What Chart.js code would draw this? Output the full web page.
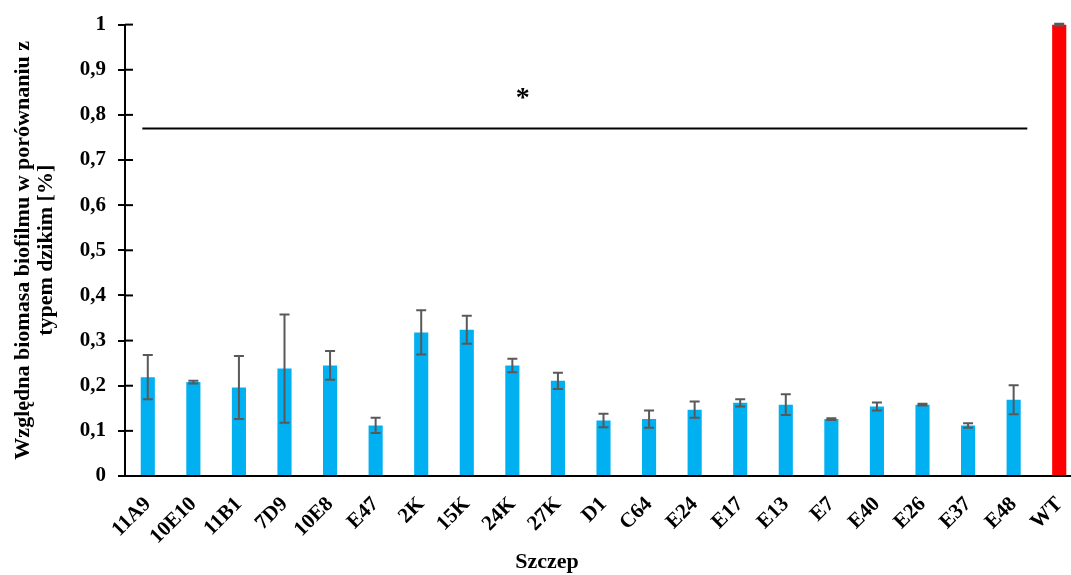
<!DOCTYPE html>
<html><head><meta charset="utf-8">
<script src="https://cdn.jsdelivr.net/npm/chart.js@4.4.1/dist/chart.umd.min.js"></script>
<style>
html,body{margin:0;padding:0;background:#fff;overflow:hidden}
#wrap{width:1071px;height:575px;overflow:hidden;position:relative;background:#fff}
#box{width:1082px;height:575px;position:absolute;left:0;top:0}
</style>
</head><body>
<div id="wrap"><div id="box"><canvas id="c"></canvas></div></div>
<script>
const categories = ['11A9','10E10','11B1','7D9','10E8','E47','2K','15K','24K','27K','D1','C64','E24','E17','E13','E7','E40','E26','E37','E48','WT'];
const values = [0.219,0.208,0.196,0.238,0.245,0.112,0.318,0.324,0.245,0.211,0.123,0.126,0.147,0.162,0.158,0.126,0.154,0.158,0.112,0.169,1.0];
const errors = [0.049,0.003,0.070,0.120,0.032,0.017,0.049,0.031,0.015,0.018,0.015,0.019,0.018,0.008,0.023,0.002,0.009,0.002,0.005,0.032,0.002];
const barColors = categories.map(c => c === 'WT' ? '#FF0000' : '#00B0F0');
const yTitle = ['Względna biomasa biofilmu w porównaniu z', 'typem dzikim [%]'];
const xTitle = 'Szczep';
const thresholdLine = { value: 0.77, from: -0.12, to: 19.3 };
const significance = { text: '*', at: 8.23, value: 0.85 };

const FONT = '"Liberation Serif", "Times New Roman", serif';

const extras = {
  id: 'extras',
  afterDatasetsDraw(chart) {
    const ctx = chart.ctx, xs = chart.scales.x, ys = chart.scales.y;
    ctx.save();
    // error bars
    ctx.strokeStyle = '#595959';
    ctx.lineWidth = 2;
    values.forEach((v, i) => {
      const x = xs.getPixelForValue(i);
      const yt = ys.getPixelForValue(v + errors[i]);
      const yb = ys.getPixelForValue(v - errors[i]);
      ctx.beginPath();
      ctx.moveTo(x, yt); ctx.lineTo(x, yb);
      ctx.moveTo(x - 5, yt); ctx.lineTo(x + 5, yt);
      ctx.moveTo(x - 5, yb); ctx.lineTo(x + 5, yb);
      ctx.stroke();
    });
    // threshold line
    ctx.strokeStyle = '#000';
    ctx.lineWidth = 2;
    const ly = ys.getPixelForValue(thresholdLine.value);
    ctx.beginPath();
    ctx.moveTo(xs.getPixelForValue(thresholdLine.from), ly);
    ctx.lineTo(xs.getPixelForValue(thresholdLine.to), ly);
    ctx.stroke();
    // star
    ctx.fillStyle = '#000';
    ctx.font = 'bold 28px ' + FONT;
    ctx.textAlign = 'center';
    ctx.textBaseline = 'middle';
    ctx.fillText(significance.text, xs.getPixelForValue(significance.at), ys.getPixelForValue(significance.value) + 6);
    // inner half of y ticks (cross ticks)
    ctx.lineWidth = 2;
    ys.ticks.forEach(t => {
      const y = ys.getPixelForValue(t.value);
      ctx.beginPath();
      ctx.moveTo(ys.right, y); ctx.lineTo(ys.right + 8, y);
      ctx.stroke();
    });
    // x title
    ctx.font = 'bold 22px ' + FONT;
    ctx.textBaseline = 'middle';
    ctx.fillText(xTitle, 547, 562);
    ctx.restore();
  }
};

new Chart(document.getElementById('c'), {
  type: 'bar',
  data: {
    labels: categories,
    datasets: [{
      data: values,
      backgroundColor: barColors,
      borderWidth: 0,
      barPercentage: 0.31,
      categoryPercentage: 1.0
    }]
  },
  options: {
    responsive: true,
    maintainAspectRatio: false,
    animation: false,
    devicePixelRatio: 1,
    layout: { padding: { top: 14, right: 0, left: 0, bottom: 0 } },
    plugins: { legend: { display: false }, tooltip: { enabled: false } },
    scales: {
      x: {
        offset: true,
        grid: { display: false },
        border: { display: true, color: '#000', width: 2 },
        ticks: {
          color: '#000',
          font: { family: FONT, size: 21, weight: 'bold' },
          minRotation: 45, maxRotation: 45,
          padding: 8,
          autoSkip: false
        },
        afterFit(s) { s.height = 99; s.paddingLeft = 0; s.paddingRight = 0; }
      },
      y: {
        min: 0, max: 1,
        grid: { display: true, drawOnChartArea: false, drawTicks: true, tickLength: 7, color: '#000', lineWidth: 2 },
        border: { display: true, color: '#000', width: 2 },
        ticks: {
          stepSize: 0.1,
          color: '#000',
          padding: 12,
          font: { family: FONT, size: 21, weight: 'bold' },
          callback: v => String(Math.round(v * 10) / 10).replace('.', ',')
        },
        title: {
          display: true,
          text: yTitle,
          color: '#000',
          font: { family: FONT, size: 22, weight: 'bold', lineHeight: 1.05 },
          padding: { top: 12, bottom: 0 }
        },
        afterFit(s) { s.width = 125; }
      }
    }
  },
  plugins: [extras]
});
</script>
</body></html>
